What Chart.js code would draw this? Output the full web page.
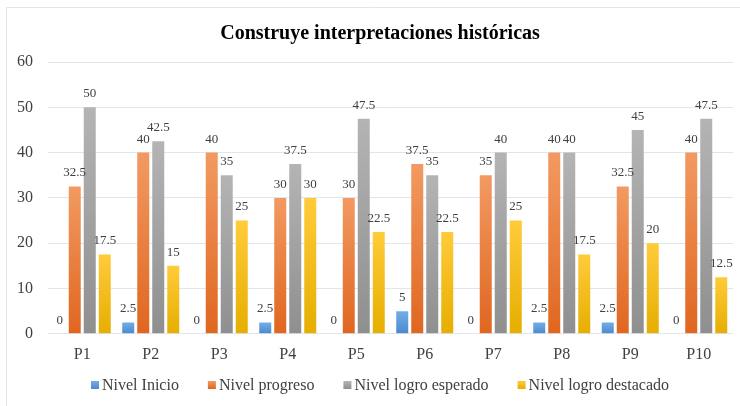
<!DOCTYPE html>
<html><head><meta charset="utf-8">
<script src="https://cdn.jsdelivr.net/npm/chart.js@4"></script>
<style>html,body{margin:0;padding:0;background:#fff;}#wrap{position:relative;width:740px;height:406px;}</style>
</head><body><div id="wrap"><canvas id="c" width="740" height="406"></canvas></div>
<script>
const titleText = 'Construye interpretaciones históricas';
const categories = ['P1','P2','P3','P4','P5','P6','P7','P8','P9','P10'];
const seriesNames = ['Nivel Inicio','Nivel progreso','Nivel logro esperado','Nivel logro destacado'];
const nivelInicio = [0,2.5,0,2.5,0,5,0,2.5,2.5,0];
const nivelProgreso = [32.5,40,40,30,30,37.5,35,40,32.5,40];
const nivelLogroEsperado = [50,42.5,35,37.5,47.5,35,40,40,45,47.5];
const nivelLogroDestacado = [17.5,15,25,30,22.5,22.5,25,17.5,20,12.5];
const yTicks = [0,10,20,30,40,50,60];

const palettes = [
  ['#72AEE6','#4A88CC'],
  ['#F29A62','#E0661F'],
  ['#B4B4B4','#8F8F8F'],
  ['#FFCB3A','#E6AE00']
];
const SERIF = '"Liberation Serif","Times New Roman",serif';

function barFill(i){
  return function(ctx){
    const chart = ctx.chart;
    const ca = chart.chartArea;
    if(!ca || ctx.type !== 'data') return palettes[i][1];
    const y = chart.scales.y;
    const top = y.getPixelForValue(ctx.raw);
    const bot = y.getPixelForValue(0);
    if (bot - top < 1) return palettes[i][1];
    const g = chart.ctx.createLinearGradient(0, top, 0, bot);
    g.addColorStop(0, palettes[i][0]);
    g.addColorStop(1, palettes[i][1]);
    return g;
  };
}

const seriesData = [nivelInicio, nivelProgreso, nivelLogroEsperado, nivelLogroDestacado];

const labelsPlugin = {
  id:'valueLabels',
  afterDatasetsDraw(chart){
    const c = chart.ctx;
    c.save();
    c.font = '13px ' + SERIF;
    c.fillStyle = '#404040';
    c.textAlign = 'center';
    c.textBaseline = 'bottom';
    chart.data.datasets.forEach((ds, di) => {
      const meta = chart.getDatasetMeta(di);
      meta.data.forEach((bar, idx) => {
        c.fillText(String(ds.data[idx]), bar.x, bar.y - 7);
      });
    });
    c.restore();
  }
};

const framePlugin = {
  id:'frame',
  beforeDraw(chart){
    const c = chart.ctx;
    c.save();
    c.strokeStyle = '#E3E6EA';
    c.lineWidth = 1;
    c.beginPath();
    c.moveTo(6.5, 406);
    c.lineTo(6.5, 7.5);
    c.lineTo(740, 7.5);
    c.stroke();
    c.restore();
  },
  afterDraw(chart){
    const c = chart.ctx;
    c.save();
    c.font = 'bold 20px ' + SERIF;
    c.fillStyle = '#000';
    c.textAlign = 'center';
    c.textBaseline = 'alphabetic';
    c.fillText(titleText, 380, 39);
    c.restore();
  }
};

const legendPlugin = {
  id:'customLegend',
  afterDraw(chart){
    const c = chart.ctx;
    c.save();
    c.font = '16px ' + SERIF;
    c.textBaseline = 'middle';
    const box = 8, gapBox = 3, gapItem = 29;
    const widths = seriesNames.map(n => box + gapBox + c.measureText(n).width);
    const total = widths.reduce((a,b)=>a+b,0) + gapItem*(widths.length-1);
    let x = 380 - total/2;
    const y = 385;
    seriesNames.forEach((n, i) => {
      const g = c.createLinearGradient(0, y-box/2, 0, y+box/2);
      g.addColorStop(0, palettes[i][0]);
      g.addColorStop(1, palettes[i][1]);
      c.fillStyle = g;
      c.fillRect(x, y - box/2, box, box);
      c.fillStyle = '#404040';
      c.textAlign = 'left';
      c.fillText(n, x + box + gapBox, y + 1);
      x += widths[i] + gapItem;
    });
    c.restore();
  }
};

new Chart(document.getElementById('c'), {
  type:'bar',
  data:{
    labels: categories,
    datasets: seriesNames.map((n,i)=>({
      label:n,
      data: seriesData[i],
      backgroundColor: barFill(i),
      borderWidth: 0,
      categoryPercentage: 0.876,
      barPercentage: 0.8
    }))
  },
  options:{
    responsive:false,
    animation:false,
    devicePixelRatio:1,
    layout:{padding:{left:6,right:7,top:62,bottom:39}},
    plugins:{
      legend:{display:false},
      tooltip:{enabled:false},
      title:{display:false}
    },
    scales:{
      x:{
        grid:{display:false},
        border:{display:false},
        ticks:{color:'#404040',font:{family:SERIF,size:16},padding:3}
      },
      y:{
        min:0,max:60,
        afterBuildTicks(axis){ axis.ticks = yTicks.map(v=>({value:v})); },
        afterFit(axis){ axis.width = 42; },
        grid:{color:'#E0E6EE',lineWidth:1,drawTicks:false},
        border:{display:false},
        ticks:{color:'#404040',font:{family:SERIF,size:16},padding:15}
      }
    }
  },
  plugins:[framePlugin, labelsPlugin, legendPlugin]
});
</script></body></html>
